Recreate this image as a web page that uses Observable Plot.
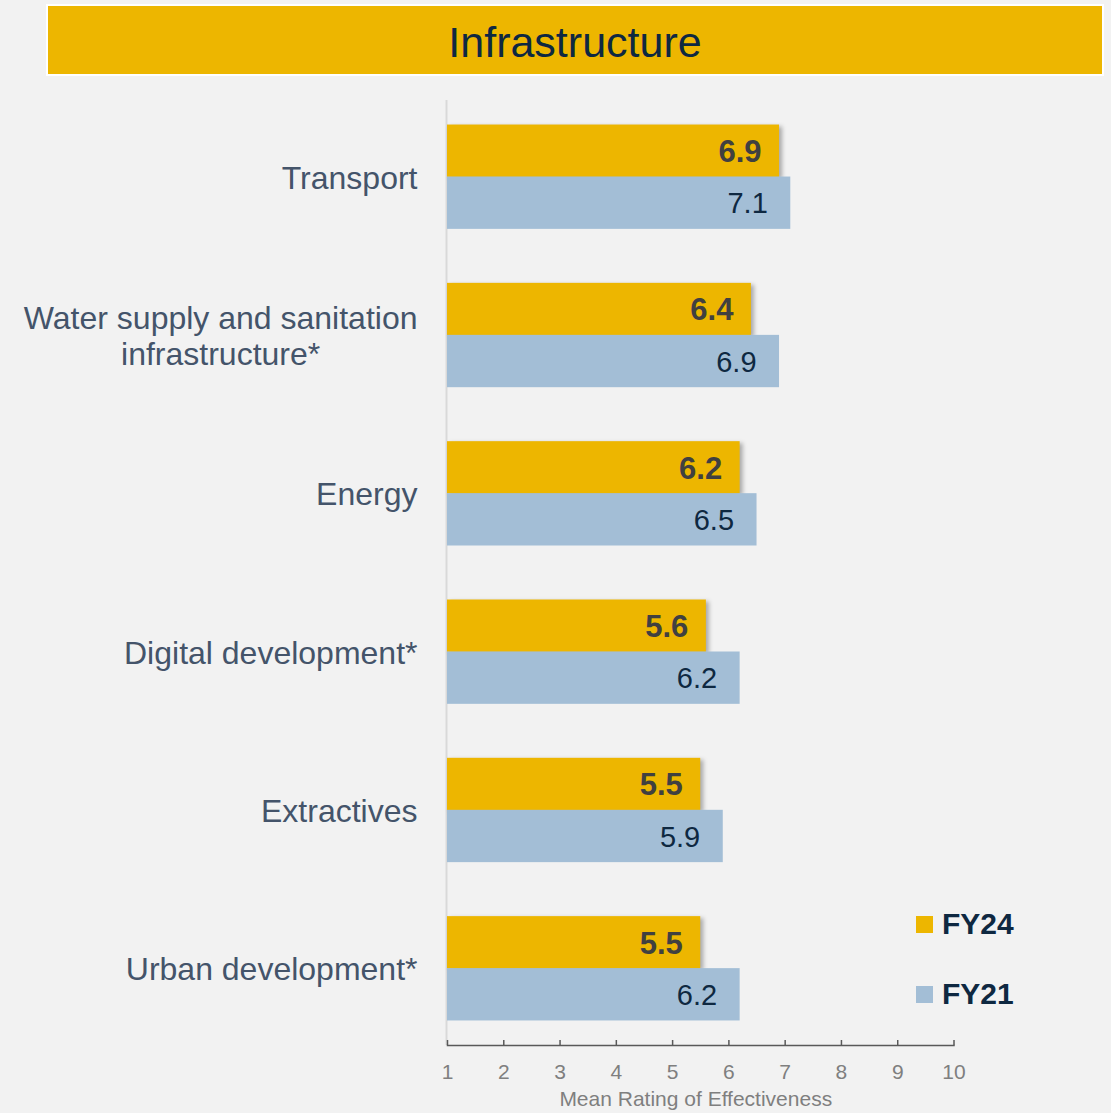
<!DOCTYPE html>
<html>
<head>
<meta charset="utf-8">
<script src="https://cdn.jsdelivr.net/npm/d3@7"></script>
<script src="https://cdn.jsdelivr.net/npm/@observablehq/plot@0.6"></script>
<style>
  html, body { margin: 0; padding: 0; background: #F2F2F2; }
  body { font-family: "Liberation Sans", Arial, sans-serif; }
  #wrap { position: relative; width: 1111px; height: 1113px; overflow: hidden; }
  #title {
    position: absolute; left: 46px; top: 4px; width: 1054px; height: 68px;
    background: #EDB600; border: 2px solid #FFFFFF;
    display: flex; align-items: center; justify-content: center;
    font-size: 43px; color: #0E2841; line-height: 1; box-sizing: content-box;
  }
  #title span { position: relative; top: 2px; }
  #chart { position: absolute; left: 0; top: 80px; }
  .leg { position: absolute; display: flex; align-items: center; font-weight: bold; font-size: 30px; color: #0E2841; }
  .leg span.sw { display: inline-block; width: 17px; height: 17px; margin-right: 9px; }
</style>
</head>
<body>
<div id="wrap">
  <div id="title"><span id="titleText"></span></div>
  <div id="chart"></div>
  <div id="legend"></div>
</div>
<script>
const titleText = "Infrastructure";
const categories = [
  "Transport",
  "Water supply and sanitation\ninfrastructure*",
  "Energy",
  "Digital development*",
  "Extractives",
  "Urban development*"
];
const fy24 = [6.9, 6.4, 6.2, 5.6, 5.5, 5.5];
const fy21 = [7.1, 6.9, 6.5, 6.2, 5.9, 6.2];
const seriesNames = ["FY24", "FY21"];
const seriesColors = ["#EDB600", "#A3BED6"];
const xTicks = [1, 2, 3, 4, 5, 6, 7, 8, 9, 10];
const xLabel = "Mean Rating of Effectiveness";

document.getElementById("titleText").textContent = titleText;

const rows24 = categories.map((c, i) => ({category: c, value: fy24[i]}));
const rows21 = categories.map((c, i) => ({category: c, value: fy21[i]}));

const W = 1111, H = 1033;
const mTop = 20, mBottom = 68, mLeft = 447, mRight = 157.5;
const frameH = H - mTop - mBottom;

const chart = Plot.plot({
  width: W,
  height: H,
  marginTop: mTop,
  marginBottom: mBottom,
  marginLeft: mLeft,
  marginRight: mRight,
  style: {background: "transparent", fontFamily: "'Liberation Sans', Arial, sans-serif"},
  x: {domain: [1, 10]},
  y: {type: "band", domain: categories, paddingInner: 0.341, paddingOuter: 0.155, round: false, axis: null},
  marks: [
    Plot.ruleX([1], {stroke: "#D9D9D9", strokeWidth: 2, dx: -1}),
    Plot.barX(rows24, {x1: 1, x2: "value", y: "category", fill: seriesColors[0], insetBottom: 52}),
    Plot.barX(rows21, {x1: 1, x2: "value", y: "category", fill: seriesColors[1], insetTop: 52}),
    Plot.text(rows24, {x: "value", y: "category", text: d => d.value.toFixed(1), textAnchor: "end",
      dx: -18, dy: -25, fontWeight: "bold", fontSize: 31, fill: "#404040"}),
    Plot.text(rows21, {x: "value", y: "category", text: d => d.value.toFixed(1), textAnchor: "end",
      dx: -23, dy: 27, fontSize: 29, fill: "#0E2841"}),
    Plot.text(categories, {y: d => d, text: d => d, frameAnchor: "left", textAnchor: "end",
      dx: -30, fontSize: 32, lineHeight: 1.13, fill: "#44546A"}),
    Plot.frame({anchor: "bottom", stroke: "#595959", strokeWidth: 1.5}),
    Plot.ruleX(xTicks, {x: d => d, stroke: "#595959", strokeWidth: 1.5, insetTop: frameH - 5}),
    Plot.axisX({ticks: xTicks, tickSize: 0, tickPadding: 19, fontSize: 21, color: "#7F7F7F", label: null}),
    Plot.text([xLabel], {text: d => d, frameAnchor: "bottom", dy: 60, dx: -5, fontSize: 21, fill: "#7F7F7F"})
  ]
});
document.getElementById("chart").appendChild(chart);

// shadow on FY24 bars
const barGroups = chart.querySelectorAll('g[aria-label="bar"]');
if (barGroups[0]) barGroups[0].style.filter = "drop-shadow(3px 2px 2px rgba(0,0,0,0.3))";

// center-align multi-line category labels inside their block
chart.querySelectorAll('g[aria-label="text"] text').forEach(t => {
  const spans = t.querySelectorAll("tspan");
  if (spans.length > 1) {
    let maxW = 0;
    spans.forEach(s => { maxW = Math.max(maxW, s.getComputedTextLength()); });
    t.setAttribute("text-anchor", "middle");
    spans.forEach(s => s.setAttribute("x", -maxW / 2));
  }
});

// legend
const legend = document.getElementById("legend");
const legTops = [908, 978];
seriesNames.forEach((n, i) => {
  const d = document.createElement("div");
  d.className = "leg";
  d.style.left = "916px";
  d.style.top = legTops[i] + "px";
  d.style.height = "32px";
  const sw = document.createElement("span");
  sw.className = "sw";
  sw.style.background = seriesColors[i];
  d.appendChild(sw);
  d.appendChild(document.createTextNode(n));
  legend.appendChild(d);
});
</script>
</body>
</html>
